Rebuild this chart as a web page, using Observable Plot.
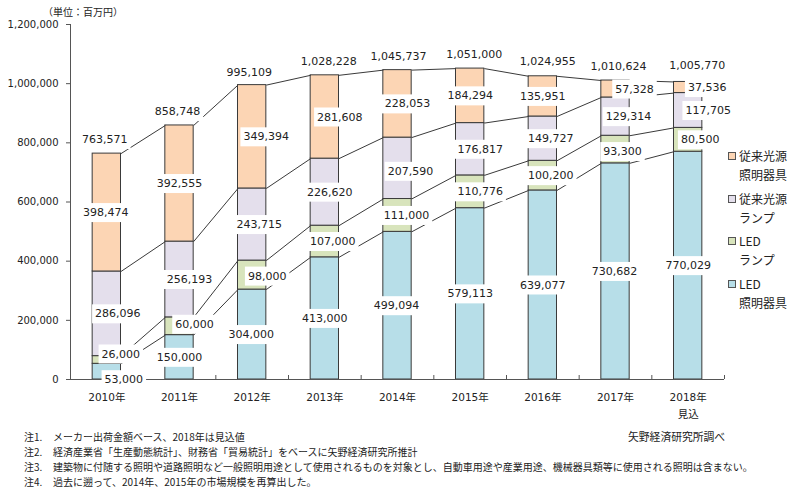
<!DOCTYPE html>
<html>
<head>
<meta charset="utf-8">
<script src="https://cdn.jsdelivr.net/npm/d3@7"></script>
<script src="https://cdn.jsdelivr.net/npm/@observablehq/plot@0.6"></script>
<style>
  html, body { margin: 0; padding: 0; background: #fff; }
  #wrap { position: relative; width: 799px; height: 492px; font-family: "DejaVu Sans", "Noto Sans CJK JP", sans-serif; color: #222; overflow: hidden; }
  #chart { position: absolute; left: 0; top: 0; }
  .unit { position: absolute; left: 43px; top: 5px; font-size: 10px; line-height: 14px; font-family: "Noto Sans CJK JP", sans-serif; }
  .legend { position: absolute; left: 728px; top: 0; font-family: "Noto Sans CJK JP", sans-serif; font-size: 12px; line-height: 19px; }
  .legend .item { position: absolute; left: 0; white-space: nowrap; }
  .legend .sw { position: absolute; left: 0; top: 6px; width: 6px; height: 6px; border: 1px solid #555; }
  .legend .tx { position: absolute; left: 11px; top: 0; }
  .notes { position: absolute; left: 24px; top: 429px; font-family: "Noto Sans CJK JP", sans-serif; font-size: 10px; line-height: 15px; white-space: nowrap; }
  .notes .k { display: inline-block; width: 29px; }
  .source { position: absolute; left: 628px; top: 429px; font-family: "Noto Sans CJK JP", sans-serif; font-size: 10.8px; line-height: 15px; }
</style>
</head>
<body>
<div id="wrap">
  <div id="chart"></div>
  <div class="unit" id="unit"></div>
  <div class="legend" id="legend"></div>
  <div class="notes" id="notes"></div>
  <div class="source" id="source"></div>
</div>
<script>
// ---- data ----
const years = ["2010年","2011年","2012年","2013年","2014年","2015年","2016年","2017年","2018年"];
const tickLabels = ["2010年","2011年","2012年","2013年","2014年","2015年","2016年","2017年","2018年\n見込"];
const ledFixtures  = [53000, 150000, 304000, 413000, 499094, 579113, 639077, 730682, 770029];
const ledLamps     = [26000, 60000, 98000, 107000, 111000, 110776, 100200, 93300, 80500];
const convLamps    = [286096, 256193, 243715, 226620, 207590, 176817, 149727, 129314, 117705];
const convFixtures = [398474, 392555, 349394, 281608, 228053, 184294, 135951, 57328, 37536];
const totals       = [763571, 858748, 995109, 1028228, 1045737, 1051000, 1024955, 1010624, 1005770];
const seriesNames  = ["LED照明器具", "LEDランプ", "従来光源ランプ", "従来光源照明器具"];
const legendNames  = [["従来光源","照明器具"], ["従来光源","ランプ"], ["LED","ランプ"], ["LED","照明器具"]];
const yTicks = [0, 200000, 400000, 600000, 800000, 1000000, 1200000];
const unitText = "（単位：百万円）";
const notes = [
  ["注1.", "メーカー出荷金額ベース、2018年は見込値"],
  ["注2.", "経済産業省「生産動態統計」、財務省「貿易統計」をベースに矢野経済研究所推計"],
  ["注3.", "建築物に付随する照明や道路照明など一般照明用途として使用されるものを対象とし、自動車用途や産業用途、機械器具類等に使用される照明は含まない。"],
  ["注4.", "過去に遡って、2014年、2015年の市場規模を再算出した。"]
];
const sourceText = "矢野経済研究所調べ";

// ---- styling / layout ----
const colors = ["#B7DEE8", "#D8E4BC", "#E4DFEC", "#FCD5B4"];
const legendColors = ["#FCD5B4", "#E4DFEC", "#D8E4BC", "#B7DEE8"];
const edge = "#3a3a3a";
const hw = 0.195; // half bar width, in category units
// label offsets in px: [LED照明器具, LEDランプ, 従来光源ランプ, 従来光源照明器具, total]
const labelDx = [
  [17, 14, 11, -1, -2],
  [0, 15, 10, 0, -2],
  [-1, 15, 7, 14, -3],
  [0, 8, 5, 15, 4],
  [-1, 9, 13, 10, 1],
  [0, 10, 10, 0, 4],
  [0, 8, 8, 0, 5],
  [-1, 7, 13, 19, 3],
  [0, 12, 20, 19, 9]
];
const labelDy = [
  [8, -6, 0, 0, -14],
  [0, -2, 0, 0, -14],
  [0, 1, 0, 0, -13],
  [0, 0, 0, 0, -14],
  [0, 0, 3, 0, -14],
  [0, 0, 0, 0, -14],
  [0, 0, 0, 0, -15],
  [0, 2, 0, 0, -14],
  [0, 0, 0, 0, -16]
];

// ---- build tables ----
const seriesVals = [ledFixtures, ledLamps, convLamps, convFixtures];
const segs = [];
const cums = [];
years.forEach((yr, i) => {
  let c = 0;
  const cc = [];
  seriesVals.forEach((arr, s) => {
    const v = arr[i];
    segs.push({i, year: yr, s, series: seriesNames[s], value: v, y1: c, y2: c + v});
    c += v;
    cc.push(c);
  });
  cums.push(cc);
});
const links = [];
for (let k = 0; k < 4; k++) {
  for (let i = 0; i < years.length - 1; i++) {
    links.push({i, ya: cums[i][k], yb: cums[i + 1][k]});
  }
}
const fmt = d3.format(",");
const labels = [];
segs.forEach(d => {
  labels.push({x: d.i, y: (d.y1 + d.y2) / 2, text: fmt(d.value), dx: labelDx[d.i][d.s], dy: labelDy[d.i][d.s]});
});
totals.forEach((t, i) => {
  labels.push({x: i, y: cums[i][3], text: fmt(t), dx: labelDx[i][4], dy: labelDy[i][4]});
});
const bounds = d3.range(years.length).map(i => i + 0.5);

const labelMarks = labels.map(l => Plot.text([l], {
  x: "x", y: "y", text: "text", dx: l.dx, dy: l.dy,
  fontSize: 11, fill: "#222", className: "lbl",
  fontFamily: "DejaVu Sans"
}));

const chart = Plot.plot({
  width: 799,
  height: 432,
  marginLeft: 70,
  marginRight: 75,
  marginTop: 24,
  marginBottom: 53,
  style: {fontFamily: "'DejaVu Sans', 'Noto Sans CJK JP', sans-serif", fontSize: "10px", color: "#222", background: "#fff"},
  x: {type: "linear", domain: [-0.5, years.length - 0.5], axis: null},
  y: {domain: [0, 1200000], axis: null},
  marks: [
    Plot.rectY(segs, {x1: d => d.i - hw, x2: d => d.i + hw, y1: "y1", y2: "y2", fill: d => colors[d.s], stroke: edge, strokeWidth: 1}),
    Plot.link(links, {x1: d => d.i + hw, y1: "ya", x2: d => d.i + 1 - hw, y2: "yb", stroke: edge, strokeWidth: 1}),
    Plot.ruleY([0], {stroke: "#555"}),
    Plot.ruleX([-0.5], {stroke: "#555"}),
    Plot.axisY(yTicks, {tickFormat: d3.format(","), tickSize: 4, tickPadding: 8, label: null, stroke: "#555", fontSize: 10}),
    Plot.axisX(bounds, {tickSize: 4, dy: -4, tickFormat: () => "", label: null, stroke: "#555"}),
    Plot.axisX(d3.range(years.length), {tickSize: 0, tickPadding: 9, tickFormat: i => tickLabels[i], label: null, fontSize: 10.5, lineHeight: 1.65}),
    ...labelMarks
  ]
});
document.getElementById("chart").append(chart);

// white boxes behind value labels
const NS = "http://www.w3.org/2000/svg";
chart.querySelectorAll("g.lbl text").forEach(t => {
  const b = t.getBBox();
  const r = document.createElementNS(NS, "rect");
  r.setAttribute("x", b.x - 3);
  r.setAttribute("y", b.y - 3);
  r.setAttribute("width", b.width + 6);
  r.setAttribute("height", b.height + 6);
  r.setAttribute("fill", "#fff");
  r.setAttribute("stroke", "none");
  const tr = t.getAttribute("transform");
  if (tr) r.setAttribute("transform", tr);
  t.parentNode.insertBefore(r, t);
});

// unit
document.getElementById("unit").textContent = unitText;

// legend
const legendTops = [146, 189, 231, 274];
const lg = document.getElementById("legend");
legendNames.forEach((nm, k) => {
  const it = document.createElement("div");
  it.className = "item";
  it.style.top = legendTops[k] + "px";
  const sw = document.createElement("div");
  sw.className = "sw";
  sw.style.background = legendColors[k];
  const tx = document.createElement("div");
  tx.className = "tx";
  tx.innerHTML = nm.join("<br>");
  it.append(sw, tx);
  lg.append(it);
});

// notes
const nt = document.getElementById("notes");
notes.forEach(([k, v]) => {
  const row = document.createElement("div");
  const ks = document.createElement("span");
  ks.className = "k";
  ks.textContent = k;
  const vs = document.createElement("span");
  vs.textContent = v;
  row.append(ks, vs);
  nt.append(row);
});
document.getElementById("source").textContent = sourceText;
</script>
</body>
</html>
